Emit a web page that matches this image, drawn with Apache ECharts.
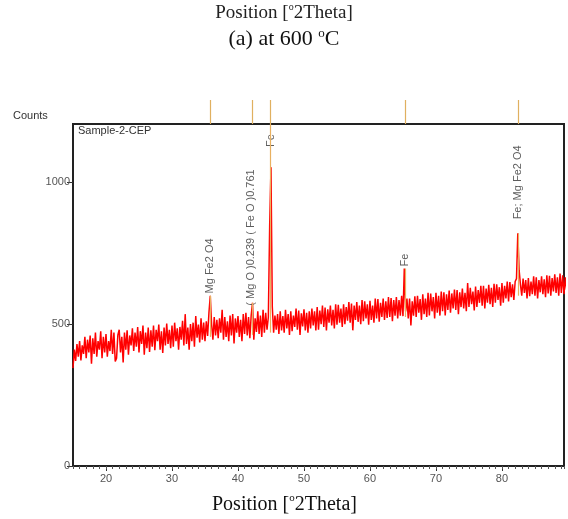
<!DOCTYPE html>
<html>
<head>
<meta charset="utf-8">
<script src="https://cdn.jsdelivr.net/npm/echarts@6/dist/echarts.min.js"></script>
<style>html,body{margin:0;padding:0;background:#fff}#c{width:568px;height:519px}</style>
</head>
<body>
<div id="c"></div>
<script>
// Scan grid (degrees 2Theta)
const scanStart = 15;
const scanStep = 0.2;
// Counts, 5 points per degree (x.0, x.2, x.4, x.6, x.8)
const counts = [
 345,410,370,430,385, 440,372,425,395,455, 380,445,400,460,360, 450,395,470,385,440, 410,475,380,455,400,
 465,385,440,405,480, 395,470,368,380,462, 480,400,455,365,470, 410,478,392,460,425, 485,405,470,420,490,
 400,475,430,495,392, 470,415,488,402,478, 420,495,408,480,440, 498,410,475,398,488, 425,502,430,480,415,
 495,420,505,440,485, 410,490,445,512,425, 535,430,488,410,500, 440,505,420,528,452, 498,435,520,445,505,
 440,510,458,540,600, 500,445,525,460,515, 450,520,470,550,445, 525,455,510,440,530, 460,535,432,520,470,
 528,455,515,440,535, 465,540,460,525,450, 530,575,445,520,472, 545,465,530,455,550, 470,540,480,525,845,
 1053,560,470,530,480, 535,465,545,478,528, 470,550,485,535,462, 545,475,530,490,555, 480,548,462,538,492,
 552,478,540,470,545, 485,555,495,545,478, 560,480,548,500,565, 490,558,478,552,505, 565,495,550,485,570,
 498,568,505,555,490, 570,500,560,512,578, 505,572,478,565,515, 578,508,565,500,585, 510,580,520,570,498,
 582,515,565,505,590, 520,588,508,575,525, 590,515,580,522,595, 525,592,510,585,530, 595,520,585,530,600,
 528,696,545,590,520, 590,495,580,530,598, 525,600,540,588,515, 605,535,590,525,610, 530,608,545,595,520,
 610,540,600,530,615, 545,612,530,605,550, 618,540,608,555,622, 550,620,535,612,560, 625,555,610,545,645,
 560,628,570,615,548, 632,560,620,575,635, 565,635,555,625,575, 638,570,628,560,642, 575,640,585,630,565,
 645,575,635,590,650, 580,648,595,640,585, 650,660,820,690,640, 600,660,610,655,590, 662,598,650,605,668,
 600,665,590,655,612, 668,605,658,595,672, 608,670,600,662,615, 675,610,665,600,678, 610,672,605,665,620
];
// Reference pattern stick positions
const refPositions = [35.8, 42.2, 44.9, 65.3, 82.5];
const refStickTop = [600, 575, 1205, 696, 820];
const refStickBottom = [455, 462, 470, 525, 600];
// Peak labels
const peakLabels = ['Mg Fe2 O4', '( Mg O )0.239 ( Fe O )0.761', 'Fe', 'Fe', 'Fe; Mg Fe2 O4'];
const peakLabelX = [35.75, 41.95, 44.95, 65.3, 82.5];
const peakLabelY = [608, 565, 1124, 703, 869];
const xTicks = [20, 30, 40, 50, 60, 70, 80];
const yTicks = [0, 500, 1000];

const X_MIN = 15, X_MAX = 89.4, Y_MAX = 1205;
const lineData = counts.map((v, i) => [scanStart + i * scanStep, v]);

const chart = echarts.init(document.getElementById('c'), null, {renderer: 'canvas'});
const sans = 'Liberation Sans, Arial, sans-serif';
const serif = 'Liberation Serif, Times New Roman, serif';

chart.setOption({
  animation: false,
  grid: [
    {left: 73, right: 4, top: 124, bottom: 53, show: true, borderColor: '#222', borderWidth: 2},
    {left: 73, right: 4, top: 100, height: 24, show: false}
  ],
  xAxis: [
    {gridIndex: 0, type: 'value', min: X_MIN, max: X_MAX, position: 'bottom',
     axisLine: {show: true, lineStyle: {color: '#222', width: 2}},
     axisTick: {show: true, customValues: xTicks, length: 5, lineStyle: {color: '#333'}},
     axisLabel: {customValues: xTicks, color: '#555', fontSize: 11, fontFamily: sans, margin: 7},
     splitLine: {show: false}},
    {gridIndex: 0, type: 'value', min: X_MIN, max: X_MAX, interval: 1, position: 'bottom',
     axisLine: {show: false},
     axisTick: {show: true, length: 3, lineStyle: {color: '#555'}},
     axisLabel: {show: false}, splitLine: {show: false}},
    {gridIndex: 1, type: 'value', min: X_MIN, max: X_MAX, show: false}
  ],
  yAxis: [
    {gridIndex: 0, type: 'value', min: 0, max: Y_MAX,
     axisLine: {show: true, lineStyle: {color: '#222', width: 2}},
     axisTick: {show: true, customValues: yTicks, length: 6, lineStyle: {color: '#333'}},
     axisLabel: {customValues: yTicks, color: '#555', fontSize: 11, fontFamily: sans, margin: 3,
                 formatter: v => String(v)},
     splitLine: {show: false}},
    {gridIndex: 1, type: 'value', min: 0, max: 1, show: false}
  ],
  graphic: [
    {type: 'text', left: 'center', top: 2, style: {
      text: '{n|Position [}{s|o}{n|2Theta]}',
      rich: {n: {fontSize: 19, fontFamily: serif, fill: '#222', lineHeight: 22},
             s: {fontSize: 10, fontFamily: serif, fill: '#222', lineHeight: 12, verticalAlign: 'top'}}}},
    {type: 'text', left: 'center', top: 27, style: {
      text: '{n|(a) at 600 }{s|o}{n|C}',
      rich: {n: {fontSize: 22, fontFamily: serif, fill: '#111', lineHeight: 25},
             s: {fontSize: 13, fontFamily: serif, fill: '#111', lineHeight: 15, verticalAlign: 'top'}}}},
    {type: 'text', x: 13, y: 110, style: {text: 'Counts', fontSize: 11, fontFamily: sans, fill: '#333'}},
    {type: 'text', x: 78, y: 125, style: {text: 'Sample-2-CEP', fontSize: 11, fontFamily: sans, fill: '#333'}},
    {type: 'text', left: 212, top: 493, style: {
      text: '{n|Position [}{s|o}{n|2Theta]}',
      rich: {n: {fontSize: 20, fontFamily: serif, fill: '#111', lineHeight: 23},
             s: {fontSize: 11, fontFamily: serif, fill: '#111', lineHeight: 13, verticalAlign: 'top'}}}}
  ],
  series: [
    {type: 'line', xAxisIndex: 0, yAxisIndex: 0, data: [], z: 1, silent: true,
     markLine: {silent: true, symbol: 'none', label: {show: false},
       lineStyle: {color: '#e8b060', width: 1.2, type: 'solid'},
       data: refPositions.map((p, i) => [{coord: [p, refStickBottom[i]]}, {coord: [p, refStickTop[i]]}])}},
    {type: 'line', xAxisIndex: 0, yAxisIndex: 0, data: lineData, showSymbol: false, z: 2,
     sampling: 'none', lineStyle: {color: '#ff0000', width: 1.5}, itemStyle: {color: '#ff0000'}},
    {type: 'scatter', xAxisIndex: 0, yAxisIndex: 0, z: 3, symbolSize: 0,
     data: peakLabelX.map((x, i) => ({value: [x, peakLabelY[i]], name: peakLabels[i]})),
     label: {show: true, position: 'inside', rotate: 90, align: 'left', verticalAlign: 'middle',
       formatter: p => p.name, fontSize: 11, fontFamily: sans, color: '#333'}},
    {type: 'line', xAxisIndex: 2, yAxisIndex: 1, data: [], silent: true,
     markLine: {silent: true, symbol: 'none', label: {show: false},
       lineStyle: {color: '#e0b060', width: 1.2, type: 'solid'},
       data: refPositions.map(p => ({xAxis: p}))}}
  ]
});
</script>
</body>
</html>
